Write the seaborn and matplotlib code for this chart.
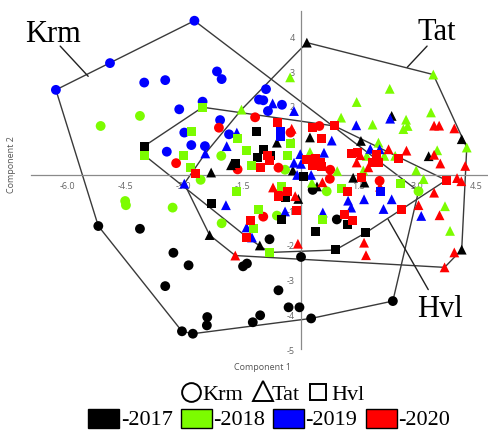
import numpy as np
import pandas as pd
import matplotlib
matplotlib.use("Agg")
import matplotlib.pyplot as plt
import seaborn as sns
from matplotlib.patches import Rectangle
from matplotlib.lines import Line2D

# ---- PCA scores (Component 1, Component 2) by site and year ----
# Krm (circles)
krm_2017_c1 = [-5.20, -4.13, -3.27, -2.88, -3.48, -3.05, -2.77, -2.40, -2.41, -1.48,
               -1.38, -1.23, -1.04, -0.80, 0.01, -0.57, -0.31, -0.03, 0.27, 2.37, 0.93, 0.31]
krm_2017_c2 = [-1.46, -1.54, -2.23, -2.59, -3.19, -4.49, -4.56, -4.08, -4.32, -2.62,
               -2.54, -4.23, -4.03, -1.84, -2.35, -3.31, -3.80, -3.80, -4.12, -3.62, -1.27, -0.42]
krm_2018_c1 = [-4.13, -5.14, -2.04, -4.51, -4.49, -3.29, -2.57, -2.03, -0.40, -0.61, 0.67, 3.03]
krm_2018_c2 = [1.71, 1.42, 0.56, -0.74, -0.86, -0.93, -0.13, -1.38, 0.16, -1.16, -0.46, -0.46]
krm_2019_c1 = [-2.73, -4.90, -6.29, -2.15, -2.03, -4.02, -3.48, -2.52, -3.12, -2.07,
               -1.84, -2.99, -2.81, -2.46, -3.44, -0.89, -1.07, -0.96, -0.48, -0.84]
krm_2019_c2 = [4.45, 3.23, 2.46, 2.99, 2.77, 2.67, 2.74, 2.12, 1.90, 1.59,
               1.18, 1.23, 0.87, 0.84, 0.68, 2.48, 2.18, 2.16, 2.03, 1.85]
krm_2020_c1 = [-2.10, -3.20, -1.62, -1.17, -0.26, -0.57, 0.76, 0.75, -0.96, 2.03, 0.48]
krm_2020_c2 = [1.37, 0.35, 0.17, 1.67, 1.23, 0.22, 0.16, -0.10, -1.19, -0.16, 1.42]

# Tat (triangles)
tat_2017_c1 = [0.16, 2.34, -0.61, 0.24, 1.55, 4.14, 3.29, -2.30, -1.79, -0.20,
               -2.34, -1.05, -0.06, 1.35, 1.64, 0.42, 4.14]
tat_2017_c2 = [3.82, 1.71, 0.94, 1.09, 0.99, 1.04, 0.55, 0.08, 0.29, 0.14,
               -1.72, -2.02, -0.68, -0.07, -0.21, -0.32, -2.14]
tat_2018_c1 = [-0.27, 3.41, 2.29, 1.44, 1.04, 1.85, 2.71, 2.75, 2.64, 3.35,
               2.00, 1.70, 3.51, 4.27, 0.24, 0.94, 0.29, 3.16, 2.97, 3.71,
               3.84, 2.43, 2.15, 1.61, -1.52]
tat_2018_c2 = [2.82, 2.90, 2.49, 2.11, 1.66, 1.46, 1.60, 1.42, 1.33, 1.81,
               0.94, 0.56, 0.72, 0.80, 0.67, 0.12, -0.21, -0.11, 0.14, -0.89,
               -1.60, 0.56, 0.56, 0.14, 1.89]
tat_2019_c1 = [-1.64, -1.90, -2.45, -2.99, -1.92, -1.39, -1.25, -0.72, -0.17, 1.43,
               2.30, 0.80, 1.79, 2.03, -0.01, 0.60, -0.17, 0.01, -0.09, 0.27,
               -0.40, 0.57, 1.22, 1.30, 1.63, 2.34, 2.13, 3.10]
tat_2019_c2 = [1.23, 0.84, 0.63, -0.24, -0.86, -1.50, -1.79, 2.07, 1.85, 1.44,
               1.63, 1.00, 0.76, 0.75, 0.61, 0.65, 0.36, 0.33, 0.01, 0.01,
               -1.04, -1.07, -0.73, -0.93, -0.69, -0.69, -0.97, -1.17]
tat_2020_c1 = [-0.23, 3.43, 3.56, 3.95, 2.72, 3.43, 3.59, 4.23, 4.02, 4.13,
               1.44, 1.53, 1.74, 3.43, 3.03, 3.57, 3.95, 3.70, 1.63, 1.68,
               2.04, -1.68, -0.07, -0.71, -0.55, -0.14, 0.56, 2.26]
tat_2020_c2 = [1.34, 1.43, 1.43, 1.35, 0.71, 0.59, 0.34, 0.27, -0.08, -0.17,
               0.37, 0.58, 0.23, -0.50, -0.86, -1.15, -2.22, -2.65, -1.94, -2.30,
               -0.33, -2.31, -1.97, -0.35, -0.40, -0.60, -0.20, 0.75]

# Hvl (squares)
hvl_2017_c1 = [-4.02, -1.68, -1.14, -1.12, -0.96, -0.78, 0.07, -0.39, -2.30, -0.48,
               0.37, 1.20, 1.68, 0.89]
hvl_2017_c2 = [0.84, 0.35, 1.25, 0.50, 0.73, 0.56, -0.03, -0.63, -0.81, -1.26,
               -1.61, -1.42, -1.65, -2.15]
hvl_2018_c1 = [-2.52, -2.81, -1.63, -4.02, -3.01, -1.40, -1.25, -2.84, -0.27, -0.35,
               -1.64, -1.08, -1.21, -0.80, -0.50, 1.06, 0.57, 2.57]
hvl_2018_c2 = [1.96, 1.27, 1.05, 0.58, 0.56, 0.71, 0.27, 0.22, 0.91, 0.57,
               -0.46, -0.97, -1.53, -2.22, -0.31, -0.39, -1.26, -0.24]
hvl_2019_c1 = [-0.53, -0.53, 2.04]
hvl_2019_c2 = [1.27, 1.11, -0.48]
hvl_2020_c1 = [-2.69, -0.59, 0.30, 0.87, 0.53, -0.85, -0.81, -1.04, 0.16, 0.37,
               0.50, 0.54, 0.30, 1.32, 1.47, 1.85, 2.00, 1.96, 2.52, 1.57,
               3.74, 1.21, -0.35, -0.57, -0.10, 1.13, 1.33, -1.30, -1.38, 2.58]
hvl_2020_c2 = [0.04, 1.51, 1.39, 1.42, 1.06, 0.56, 0.43, 0.22, 0.46, 0.48,
               0.37, 0.26, 0.29, 0.62, 0.66, 0.37, 0.37, 0.61, 0.49, -0.06,
               -0.14, -0.46, -0.46, -0.61, -1.00, -1.12, -1.29, -1.30, -1.78, -0.97]

sites = ["Krm", "Tat", "Hvl"]
years = ["2017", "2018", "2019", "2020"]
x_ticks = [-6.0, -4.5, -3.0, -1.5, 1.5, 3.0, 4.5]
y_ticks = [-5, -4, -3, -2, -1, 1, 2, 3, 4]

groups = [
    ("Krm", "2017", krm_2017_c1, krm_2017_c2), ("Krm", "2018", krm_2018_c1, krm_2018_c2),
    ("Krm", "2019", krm_2019_c1, krm_2019_c2), ("Krm", "2020", krm_2020_c1, krm_2020_c2),
    ("Tat", "2017", tat_2017_c1, tat_2017_c2), ("Tat", "2018", tat_2018_c1, tat_2018_c2),
    ("Tat", "2019", tat_2019_c1, tat_2019_c2), ("Tat", "2020", tat_2020_c1, tat_2020_c2),
    ("Hvl", "2017", hvl_2017_c1, hvl_2017_c2), ("Hvl", "2018", hvl_2018_c1, hvl_2018_c2),
    ("Hvl", "2019", hvl_2019_c1, hvl_2019_c2), ("Hvl", "2020", hvl_2020_c1, hvl_2020_c2),
]
rows = []
for site, year, c1, c2 in groups:
    for a, b in zip(c1, c2):
        rows.append({"site": site, "year": year, "c1": a, "c2": b})
df = pd.DataFrame(rows)
df["order"] = df["year"].map({y: i for i, y in enumerate(years)})
df = df.sort_values("order", kind="stable")

palette = {"2017": "#000000", "2018": "#7CFC00", "2019": "#0000FF", "2020": "#FF0000"}
markers = {"Krm": "o", "Tat": "^", "Hvl": "s"}
msizes = {"Krm": 50, "Tat": 50, "Hvl": 42}


def convex_hull(pts):
    pts = sorted(set(map(tuple, pts)))
    if len(pts) < 3:
        return pts

    def cross(o, a, b):
        return (a[0] - o[0]) * (b[1] - o[1]) - (a[1] - o[1]) * (b[0] - o[0])

    lower, upper = [], []
    for p in pts:
        while len(lower) >= 2 and cross(lower[-2], lower[-1], p) <= 0:
            lower.pop()
        lower.append(p)
    for p in reversed(pts):
        while len(upper) >= 2 and cross(upper[-2], upper[-1], p) <= 0:
            upper.pop()
        upper.append(p)
    return lower[:-1] + upper[:-1]


sns.set_theme(style="white")
plt.rcParams["font.family"] = ["Open Sans", "DejaVu Sans"]

W, H = 488, 431
fig = plt.figure(figsize=(W / 100, H / 100), dpi=100)
ax = fig.add_axes([31 / W, 1 - 350 / H, (487 - 31) / W, (350 - 12) / H])
ax.set_xlim(-6.93, 4.79)
ax.set_ylim(-5.0, 4.73)

# convex hull of each site
for site in sites:
    sub = df[df["site"] == site]
    hull = convex_hull(sub[["c1", "c2"]].values)
    hull = hull + [hull[0]]
    hx, hy = zip(*hull)
    ax.plot(hx, hy, color="#3a3a3a", lw=1.0, zorder=2)

for site in sites:
    sns.scatterplot(data=df[df["site"] == site], x="c1", y="c2", hue="year",
                    palette=palette, marker=markers[site], s=msizes[site],
                    linewidth=0, legend=False, ax=ax, zorder=3)

# cross-shaped axes through the origin
for side in ["top", "right"]:
    ax.spines[side].set_visible(False)
for side in ["left", "bottom"]:
    ax.spines[side].set_position(("data", 0))
    ax.spines[side].set_color("#8a8a8a")
    ax.spines[side].set_linewidth(0.9)
ax.set_xticks(x_ticks)
ax.set_xticklabels([f"{v:.1f}" for v in x_ticks])
ax.set_yticks(y_ticks)
ax.set_yticklabels([str(v) for v in y_ticks])
ax.tick_params(direction="inout", length=4, width=0.8, color="#8a8a8a",
               labelcolor="#666666", labelsize=6.5, pad=2)
ax.set_xlabel("")
ax.set_ylabel("")
ax.grid(False)

fig.text(263 / W, 1 - 368 / H, "Component 1", ha="center", va="center",
         fontsize=6.5, color="#555555")
fig.text(12 / W, 1 - 165 / H, "Component 2", ha="center", va="center",
         rotation=90, fontsize=6.5, color="#555555")

# site labels with leader lines
serif = ["Liberation Serif", "DejaVu Serif"]
for name, txt_xy, p0, p1 in [("Krm", (-6.36, 4.09), (-6.18, 3.72), (-5.46, 2.85)),
                             ("Tat", (3.51, 4.15), (3.25, 3.72), (2.74, 3.11)),
                             ("Hvl", (3.59, -3.83), (3.28, -3.29), (2.25, -1.27))]:
    ax.text(*txt_xy, name, ha="center", va="center", fontsize=22,
            family=serif, color="black", zorder=4)
    ax.plot([p0[0], p1[0]], [p0[1], p1[1]], color="#222222", lw=1.0, zorder=4)

# legend: sites (open shapes)
for mk, cx, cy, ms, label, tx in [("o", 190.5, 392.5, 13.5, "Krm", 202),
                                  ("^", 262.5, 391.5, 14.5, "Tat", 272),
                                  ("s", 318, 393, 11, "Hvl", 331)]:
    fig.add_artist(Line2D([cx / W], [1 - cy / H], transform=fig.transFigure,
                          marker=mk, markersize=ms, markerfacecolor="white",
                          markeredgecolor="black", markeredgewidth=1.4, linestyle="none"))
    fig.text(tx / W, 1 - 400 / H, label, ha="left", va="baseline",
             fontsize=16, family=serif, color="black")

# legend: years (filled boxes)
for year, bx, tx in [("2017", 87.5, 121), ("2018", 181, 213),
                     ("2019", 272.5, 305), ("2020", 366, 398)]:
    fig.add_artist(Rectangle((bx / W, 1 - 429 / H), 31 / W, 19 / H,
                             transform=fig.transFigure, facecolor=palette[year],
                             edgecolor="black", linewidth=1.0))
    fig.text(tx / W, 1 - 425 / H, "-" + year, ha="left", va="baseline",
             fontsize=16, family=serif, color="black")

fig.savefig("out.png", dpi=100)
